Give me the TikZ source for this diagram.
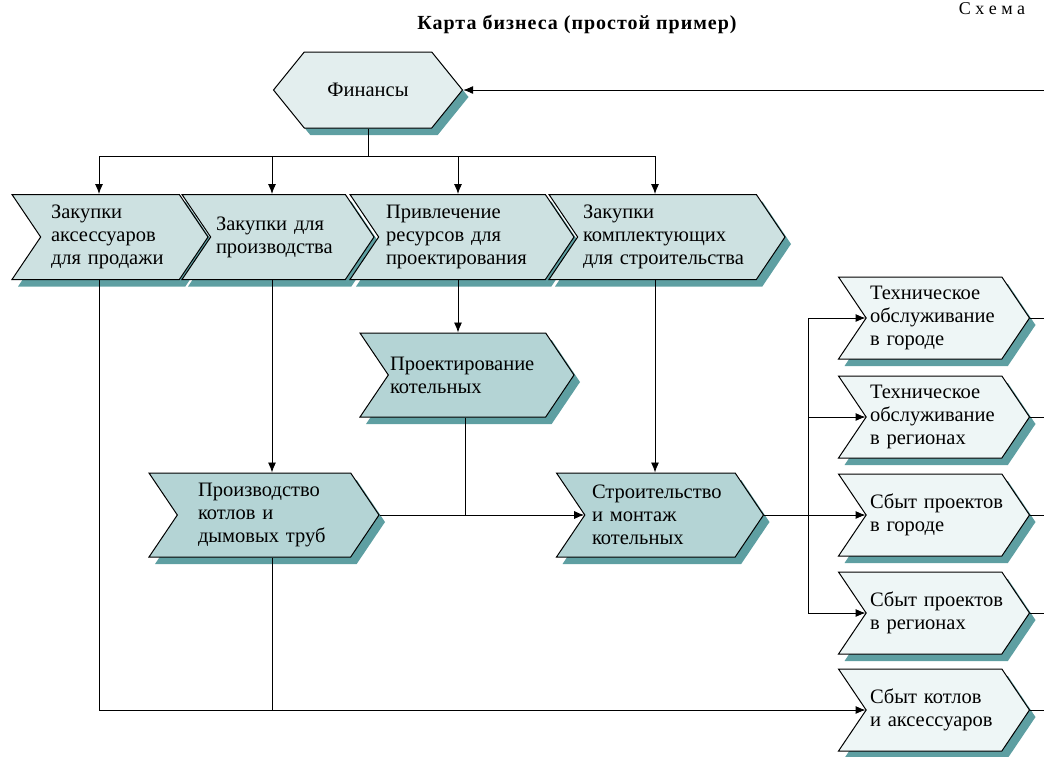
\documentclass[tikz,border=0pt]{standalone}
\usepackage{fontspec}
\setmainfont{Liberation Serif}
\usepackage{tikz}
\usetikzlibrary{shapes.symbols,shadows,arrows.meta,calc}

\definecolor{shadowc}{HTML}{5E9FA2}
\definecolor{topfill}{HTML}{CDE1E1}
\definecolor{midfill}{HTML}{B4D4D5}
\definecolor{sidefill}{HTML}{EEF6F6}
\definecolor{finfill}{HTML}{E3EEEE}

\begin{document}
\begin{tikzpicture}[x=1pt,y=-1pt,
	font=\fontsize{20.5}{23}\selectfont,
	line width=0.9pt,
	arr/.style={-{Latex[length=10pt,width=8pt]}},
	chev/.style={signal, signal from=west, signal to=east, signal pointer angle=112,
		draw=black, line width=1pt, align=left, inner sep=0pt,
		drop shadow={shadow xshift=6pt, shadow yshift=-7pt, fill=shadowc, opacity=1}},
	topbox/.style={chev, fill=topfill, minimum height=85pt},
	midbox/.style={chev, fill=midfill, minimum height=84pt},
	sidebox/.style={chev, fill=sidefill, minimum height=82pt, minimum width=191pt, text width=128pt}]
	\useasboundingbox (0,0) rectangle (1044,756);

	% headings
	\node[font=\bfseries\fontsize{20}{22}\selectfont\addfontfeature{LetterSpace=5}] (title) at (577,24) {Карта бизнеса (простой пример)};
	\node[font=\fontsize{18}{20}\selectfont] (schema) at (992,9) {С х е м а};

	% finance
	\node[signal, signal to=east and west, signal pointer angle=102, draw=black, line width=1pt,
		fill=finfill, minimum width=189pt, minimum height=76pt, inner sep=0pt,
		drop shadow={shadow xshift=6pt, shadow yshift=-7pt, fill=shadowc, opacity=1}] (fin) at (368,90) {Финансы};

	% purchasing row
	\node[topbox, minimum width=196pt, text width=118pt] (aks) at (110,237) {Закупки\\аксессуаров\\для продажи};
	\node[topbox, minimum width=192pt, text width=124pt] (prz) at (278,237) {Закупки для\\производства};
	\node[topbox, minimum width=224pt, text width=152pt] (priv) at (462,237) {Привлечение\\ресурсов для\\проектирования};
	\node[topbox, minimum width=236pt, text width=168pt] (kompl) at (667,237) {Закупки\\комплектующих\\для строительства};

	% production row
	\node[midbox, minimum width=214pt, text width=154pt] (proekt) at (467,375) {Проектирование\\котельных};
	\node[midbox, minimum width=230pt, text width=132pt] (proizv) at (264,515) {Производство\\котлов и\\дымовых труб};
	\node[midbox, minimum width=207pt, text width=136pt] (stroi) at (660,515) {Строительство\\и монтаж\\котельных};

	% sales column
	\node[sidebox] (tehG) at (934,318) {Техническое\\обслуживание\\в городе};
	\node[sidebox] (tehR) at (934,417) {Техническое\\обслуживание\\в регионах};
	\node[sidebox] (sbG) at (934,515) {Сбыт~проектов\\в городе};
	\node[sidebox] (sbR) at (934,613) {Сбыт~проектов\\в регионах};
	\node[sidebox] (sbK) at (934,710) {Сбыт котлов\\и аксессуаров};

	% finance to purchasing
	\draw (fin.south) -- (fin.south |- 0,156) coordinate (bus);
	\draw ([xshift=-11pt]aks.north |- bus) -- ([xshift=-12pt]kompl.north |- bus);
	\draw[arr] ([xshift=-11pt]aks.north |- bus) -- ([xshift=-11pt]aks.north);
	\draw[arr] ([xshift=-6pt]prz.north |- bus) -- ([xshift=-6pt]prz.north);
	\draw[arr] ([xshift=-4pt]priv.north |- bus) -- ([xshift=-4pt]priv.north);
	\draw[arr] ([xshift=-12pt]kompl.north |- bus) -- ([xshift=-12pt]kompl.north);

	% purchasing to production
	\draw[arr] ([xshift=-6pt]prz.south) -- ([xshift=8pt]proizv.north);
	\draw[arr] ([xshift=-4pt]priv.south) -- ([xshift=-9pt]proekt.north);
	\draw[arr] ([xshift=-12pt]kompl.south) -- ([xshift=-5pt]stroi.north);
	\draw[arr] (proizv.east) -- (stroi.west);
	\draw ([xshift=-2pt]proekt.south) -- ([xshift=-2pt]proekt.south |- proizv.east);

	% production to sales
	\draw[arr] (stroi.east) -- (sbG.west);
	\coordinate (vb) at ($(stroi.east)+(44,0)$);
	\draw (vb |- tehG.west) -- (vb |- sbR.west);
	\foreach \n in {tehG,tehR,sbR} {
		\draw[arr] (vb |- \n.west) -- (\n.west);
	}
	\draw[arr] ([xshift=-11pt]aks.south) |- (sbK.west);
	\draw ([xshift=8pt]proizv.south) -- ([xshift=8pt]proizv.south |- sbK.west);

	% back to finance
	\coordinate (edge) at (1044,90);
	\foreach \n in {tehG,tehR,sbG,sbR,sbK} {
		\draw (\n.east) -- (\n.east -| edge);
	}
	\draw[arr] (edge) -- (fin.east);
\end{tikzpicture}
\end{document}
